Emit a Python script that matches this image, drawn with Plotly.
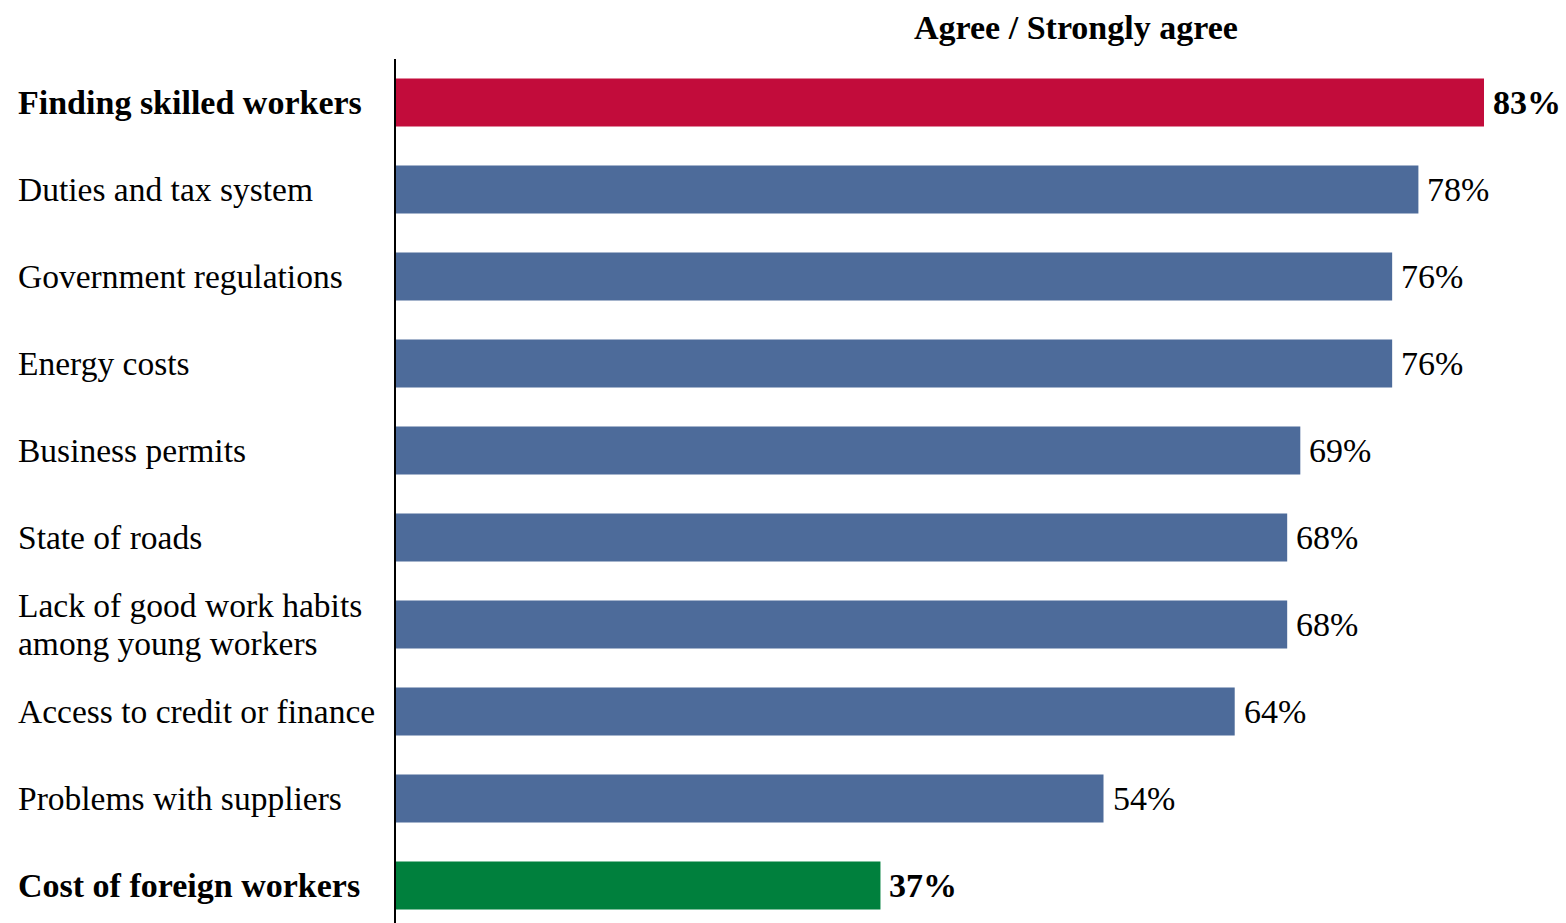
import plotly.graph_objects as go

categories = [
    "Finding skilled workers",
    "Duties and tax system",
    "Government regulations",
    "Energy costs",
    "Business permits",
    "State of roads",
    "Lack of good work habits<br>among young workers",
    "Access to credit or finance",
    "Problems with suppliers",
    "Cost of foreign workers",
]
values = [83, 78, 76, 76, 69, 68, 68, 64, 54, 37]
colors = ["#C20C3B"] + ["#4D6B9A"] * 8 + ["#00803D"]
bold = [True] + [False] * 8 + [True]

FONT = "Liberation Serif"
n = len(categories)
ypos = list(range(n - 1, -1, -1))

W, H = 1566, 923
left, top = 395, 59
step = 87.0
plot_w = W - left
plot_h = H - top
x_max = plot_w / ((1484 - 395) / 83)
line_gap = 38

fig = go.Figure(go.Bar(
    x=values, y=ypos, orientation="h",
    marker=dict(color=colors, line=dict(width=0)),
    width=0.55, hoverinfo="skip",
))

annotations = []
for cat, v, y, b in zip(categories, values, ypos, bold):
    lines = cat.split("<br>")
    for i, ln in enumerate(lines):
        offset = ((len(lines) - 1) / 2 - i) * line_gap
        txt = f"<b>{ln}</b>" if b else ln
        annotations.append(dict(
            x=-(left - 16) / plot_w, xref="paper", y=y, yref="y",
            text=txt, showarrow=False, xanchor="left", yanchor="middle",
            yshift=offset, align="left",
            font=dict(family=FONT, size=34 if b else 33.5, color="#000000"),
        ))
    lab = f"<b>{v}%</b>" if b else f"{v}%"
    annotations.append(dict(
        x=v, xref="x", y=y, yref="y", text=lab, showarrow=False,
        xanchor="left", yanchor="middle", xshift=7,
        font=dict(family=FONT, size=34, color="#000000"),
    ))

# column heading above the bars
annotations.append(dict(
    x=(1076 - left) / plot_w, xref="paper",
    y=1 + (top - 27) / plot_h, yref="paper",
    text="<b>Agree / Strongly agree</b>", showarrow=False,
    xanchor="center", yanchor="middle",
    font=dict(family=FONT, size=34, color="#000000"),
))

y_top = n - 1 + 0.5
y_bottom = y_top - plot_h / step

fig.update_layout(
    width=W, height=H,
    margin=dict(l=left, r=0, t=top, b=0, pad=0),
    paper_bgcolor="white", plot_bgcolor="white",
    showlegend=False,
    xaxis=dict(range=[0, x_max], visible=False, fixedrange=True),
    yaxis=dict(range=[y_bottom, y_top], showticklabels=False, showgrid=False,
               zeroline=False, ticks="", fixedrange=True),
    annotations=annotations,
    shapes=[dict(type="line", xref="paper", yref="paper", x0=0, x1=0,
                 y0=0, y1=1, line=dict(color="#000000", width=2))],
)

fig.write_html("out.html")
